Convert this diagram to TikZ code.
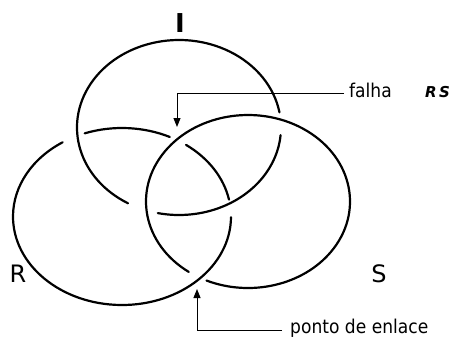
\documentclass[tikz,border=0pt]{standalone}
\usepackage{fontspec}
\setmainfont{DejaVu Sans}
\newfontfamily\notefont[FakeStretch=0.9]{DejaVu Sans}
\usetikzlibrary{arrows.meta}
\begin{document}
\begin{tikzpicture}[x=1pt,y=-1pt,
  ring/.style={line width=2.2pt, line cap=round},
  leader/.style={line width=1pt},
  tipend/.style={-{Triangle[length=9pt,width=7pt]}},
  lbl/.style={inner sep=0pt, font=\fontsize{24}{28}\selectfont},
  note/.style={inner sep=0pt, font=\notefont\fontsize{19}{22}\selectfont}]
\useasboundingbox (0,0) rectangle (454,338);
% ring I
\begin{scope}[shift={(179,127.5)}]
  \draw[ring] (5:102 and 87.5) arc[start angle=5,end angle=102,x radius=102,y radius=87.5];
  \draw[ring] (120:102 and 87.5) arc[start angle=120,end angle=350,x radius=102,y radius=87.5];
\end{scope}
% ring R
\begin{scope}[shift={(122,216.5)}]
  \draw[ring] (0.5:109 and 88.5) arc[start angle=0.5,end angle=237,x radius=109,y radius=88.5];
  \draw[ring] (250:109 and 88.5) arc[start angle=250,end angle=296,x radius=109,y radius=88.5];
  \draw[ring] (306:109 and 88.5) arc[start angle=306,end angle=349,x radius=109,y radius=88.5];
\end{scope}
% ring S
\begin{scope}[shift={(248,201.5)}]
  \draw[ring] (125.5:102 and 86.5) arc[start angle=125.5,end angle=474,x radius=102,y radius=86.5];
\end{scope}
% labels
\node[lbl, font=\fontsize{26}{30}\selectfont\bfseries, anchor=base] (labI) at (180,32) {I};
\node[lbl, anchor=base] (labR) at (18,282) {R};
\node[lbl, anchor=base] (labS) at (379,282) {S};
\node[note, anchor=base west] (falha) at (349,97) {falha};
\node[inner sep=0pt, anchor=base west, font=\fontsize{15}{18}\selectfont\bfseries\itshape] (rs) at (425,97) {R\,S};
\node[note, anchor=base west] (ponto) at (290,333) {ponto de enlace};
% leaders
\coordinate (fStart) at (344,93);
\coordinate (fTip) at (177,127);
\coordinate (pStart) at (282,330);
\coordinate (pTip) at (197,289);
\draw[leader,tipend] (fStart) -| (fTip);
\draw[leader,tipend] (pStart) -| (pTip);
\end{tikzpicture}
\end{document}
